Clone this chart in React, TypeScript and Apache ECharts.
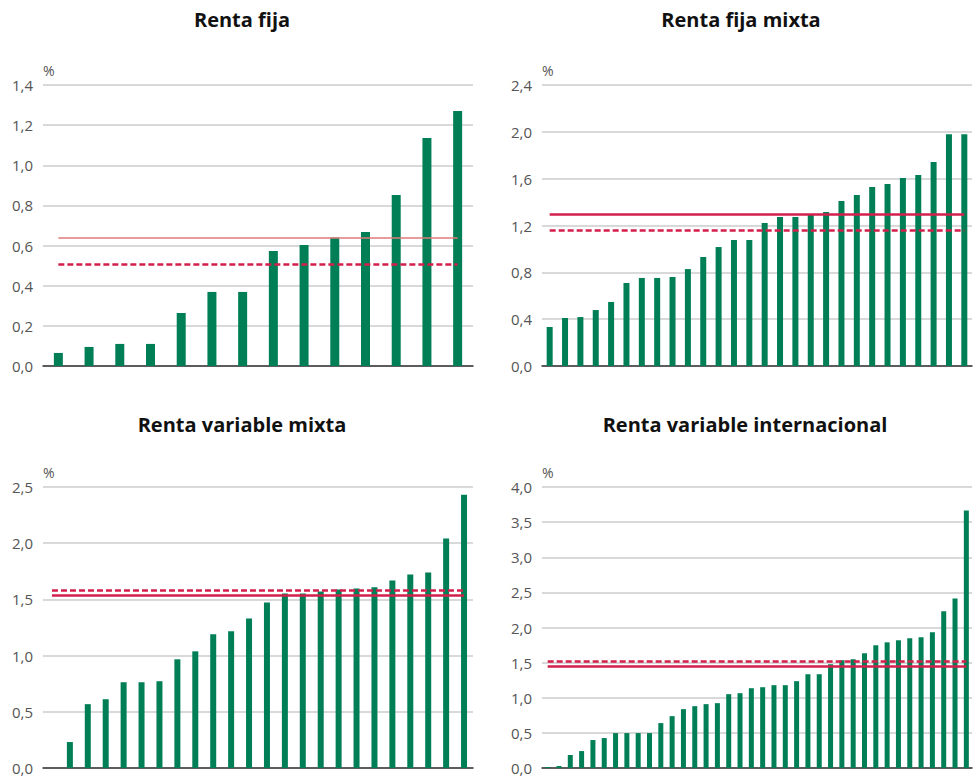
import React, { useEffect, useRef } from "react";
import * as echarts from "echarts";

const titles = ["Renta fija", "Renta fija mixta", "Renta variable mixta", "Renta variable internacional"];

const rentaFija = [0.065, 0.095, 0.11, 0.11, 0.264, 0.369, 0.369, 0.573, 0.603, 0.64, 0.668, 0.852, 1.136, 1.271];
const rentaFijaMixta = [0.333, 0.41, 0.418, 0.478, 0.547, 0.709, 0.752, 0.752, 0.76, 0.828, 0.931, 1.016, 1.076, 1.076, 1.221, 1.273, 1.273, 1.29, 1.315, 1.409, 1.46, 1.529, 1.554, 1.606, 1.631, 1.742, 1.98, 1.98];
const rentaVariableMixta = [0, 0.231, 0.568, 0.612, 0.763, 0.763, 0.772, 0.967, 1.038, 1.189, 1.216, 1.331, 1.473, 1.553, 1.553, 1.571, 1.589, 1.598, 1.607, 1.669, 1.722, 1.74, 2.041, 2.432];
const rentaVariableInternacional = [0.014, 0.028, 0.185, 0.241, 0.398, 0.426, 0.497, 0.497, 0.497, 0.497, 0.639, 0.738, 0.838, 0.88, 0.909, 0.923, 1.051, 1.065, 1.136, 1.15, 1.179, 1.179, 1.236, 1.335, 1.335, 1.477, 1.534, 1.548, 1.633, 1.747, 1.789, 1.818, 1.846, 1.86, 1.931, 2.23, 2.414, 3.664];

// reference lines: [solid, dashed]
const solidLines = [0.64, 1.295, 1.538, 1.449];
const dashedLines = [0.507, 1.159, 1.577, 1.524];

const yMax = [1.4, 2.4, 2.5, 4.0];
const yInterval = [0.2, 0.4, 0.5, 0.5];

const seriesData = [rentaFija, rentaFijaMixta, rentaVariableMixta, rentaVariableInternacional];

export default function App() {
  const ref = useRef<HTMLDivElement>(null);
  useEffect(() => {
    document.body.style.margin = "0";
    if (!ref.current) return;
    const chart = echarts.init(ref.current, null, { renderer: "svg" });
    const grids = [
      { left: 43, top: 85, width: 430, height: 281 },
      { left: 542, top: 85, width: 430, height: 281 },
      { left: 43, top: 487, width: 430, height: 281 },
      { left: 542, top: 487, width: 430, height: 281 },
    ];
    const barWidths = [9, 6, 6, 5];
    const font = "'Open Sans', sans-serif";
    const xAxis = seriesData.map((d, i) => ({
      type: "category",
      gridIndex: i,
      data: d.map((_, j) => String(j + 1)),
      axisTick: { show: false },
      axisLabel: { show: false },
      axisLine: { lineStyle: { color: "#333", width: 1.5 } },
    }));
    const yAxis = seriesData.map((_, i) => ({
      type: "value",
      gridIndex: i,
      min: 0,
      max: yMax[i],
      interval: yInterval[i],
      name: "%",
      nameLocation: "end",
      nameGap: 8,
      nameTextStyle: { align: "left", color: "#555", fontSize: 14, fontFamily: font },
      axisLine: { show: false },
      axisTick: { show: false },
      axisLabel: {
        color: "#555",
        fontSize: 15,
        fontFamily: font,
        margin: 10,
        formatter: (v: number) => v.toFixed(1).replace(".", ","),
      },
      splitLine: { lineStyle: { color: "#cccccc", width: 1.5 } },
    }));
    const series: any[] = [];
    seriesData.forEach((d, i) => {
      const n = d.length - 1;
      const solidStyle = i === 0
        ? { color: "#e07a7a", width: 1.5, type: "solid" }
        : { color: "#d21f4b", width: 2.5, type: "solid" };
      series.push({
        type: "bar",
        xAxisIndex: i,
        yAxisIndex: i,
        data: d,
        barWidth: barWidths[i],
        itemStyle: { color: "#007f56" },
        markLine: {
          silent: true,
          symbol: "none",
          label: { show: false },
          data: [
            [
              { coord: [0, solidLines[i]], lineStyle: solidStyle },
              { coord: [n, solidLines[i]] },
            ],
            [
              { coord: [0, dashedLines[i]], lineStyle: { color: "#d21f4b", width: 2.5, type: [6, 3] } },
              { coord: [n, dashedLines[i]] },
            ],
          ],
        },
      });
    });
    const titlePos = [
      [242, 9],
      [741, 9],
      [242, 414],
      [745, 414],
    ];
    const graphic = titles.map((t, i) => ({
      type: "text",
      x: titlePos[i][0],
      y: titlePos[i][1],
      style: {
        text: t,
        align: "center",
        verticalAlign: "top",
        fontSize: 20,
        fontWeight: "bold",
        fontFamily: font,
        fill: "#111",
      },
    }));
    chart.setOption({
      animation: false,
      grid: grids,
      xAxis,
      yAxis,
      series,
      graphic,
    });
    return () => chart.dispose();
  }, []);
  return <div ref={ref} style={{ width: 973, height: 778 }} />;
}
